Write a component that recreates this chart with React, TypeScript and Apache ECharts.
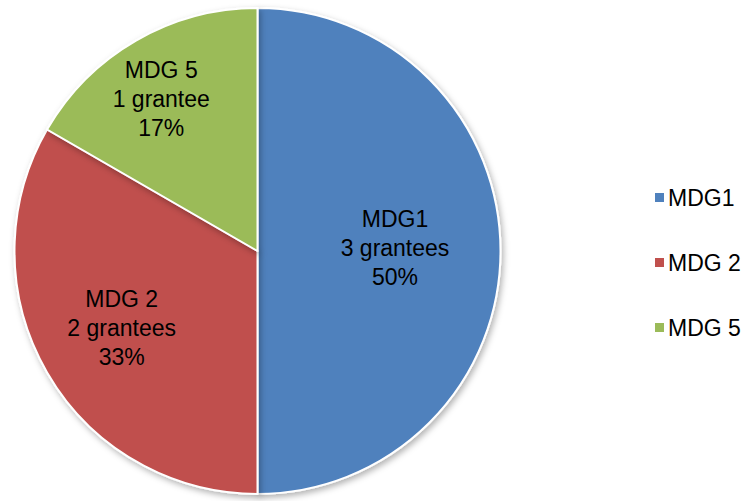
import React, { useEffect, useRef } from "react";
import * as echarts from "echarts";

const categories = ["MDG1", "MDG 2", "MDG 5"];
const grantees = [3, 2, 1];
const granteeWords = ["grantees", "grantees", "grantee"];
const colors = ["#4F81BD", "#C0504D", "#9BBB59"];
// label nudges from ECharts' default inside position (px)
const labelOffsets = [
  [13, -3],
  [-28, 15],
  [-34, -44],
];

export default function App() {
  const ref = useRef<HTMLDivElement>(null);
  useEffect(() => {
    if (!ref.current) return;
    const chart = echarts.init(ref.current, undefined, { renderer: "svg" });
    const total = grantees.reduce((a, b) => a + b, 0);
    chart.setOption({
      animation: false,
      backgroundColor: "#ffffff",
      textStyle: { fontFamily: "'Liberation Sans', Arial, sans-serif" },
      legend: {
        orient: "vertical",
        left: 648,
        top: 181,
        itemWidth: 11,
        itemHeight: 11,
        itemGap: 42,
        icon: "rect",
        data: categories,
        textStyle: {
          fontSize: 23,
          color: "#000",
          fontFamily: "'Liberation Sans', Arial, sans-serif",
          padding: [0, 0, 0, -2],
        },
      },
      series: [
        {
          type: "pie",
          center: [257.5, 251],
          radius: 243,
          startAngle: 90,
          clockwise: true,
          avoidLabelOverlap: false,
          itemStyle: {
            borderColor: "#ffffff",
            borderWidth: 2,
            shadowBlur: 6,
            shadowColor: "rgba(0,0,0,0.3)",
            shadowOffsetX: 2,
            shadowOffsetY: 3,
          },
          emphasis: { disabled: true },
          label: {
            show: true,
            position: "inside",
            color: "#000",
            fontSize: 23,
            lineHeight: 29,
            align: "center",
            fontFamily: "'Liberation Sans', Arial, sans-serif",
            formatter: (p: any) =>
              `${p.name}\n${grantees[p.dataIndex]} ${granteeWords[p.dataIndex]}\n${Math.round(
                (grantees[p.dataIndex] / total) * 100
              )}%`,
          },
          labelLine: { show: false },
          labelLayout: (p: any) => ({
            dx: labelOffsets[p.dataIndex][0],
            dy: labelOffsets[p.dataIndex][1],
          }),
          data: categories.map((c, i) => ({
            name: c,
            value: grantees[i],
            itemStyle: { color: colors[i] },
          })),
        },
      ],
    });
    return () => chart.dispose();
  }, []);
  return (
    <div
      ref={ref}
      style={{ position: "fixed", left: 0, top: 0, width: 745, height: 501 }}
    />
  );
}
